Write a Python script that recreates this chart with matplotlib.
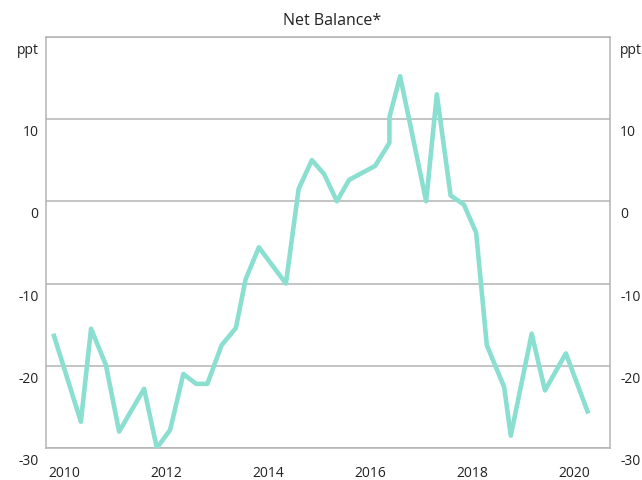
import numpy as np
import matplotlib.pyplot as plt
from matplotlib.transforms import ScaledTranslation

plt.rcParams['font.family'] = ['Open Sans', 'DejaVu Sans']

# survey dates (decimal years) and net balance (ppt)
dates = [2009.79, 2010.33, 2010.53, 2010.82, 2011.08, 2011.57, 2011.82,
         2012.08, 2012.34, 2012.59, 2012.81, 2013.09, 2013.37, 2013.56,
         2013.82, 2014.35, 2014.60, 2014.86, 2015.10, 2015.35, 2015.59,
         2016.10, 2016.38, 2016.38, 2016.59, 2017.10, 2017.31, 2017.58,
         2017.84, 2018.08, 2018.29, 2018.63, 2018.76, 2019.17, 2019.43,
         2019.84, 2020.28]
net_balance = [-16.1, -26.8, -15.5, -19.9, -28.0, -22.8, -30.0, -27.8,
               -21.0, -22.2, -22.2, -17.5, -15.4, -9.5, -5.6, -10.0, 1.5,
               5.0, 3.3, 0.0, 2.6, 4.3, 7.1, 10.2, 15.2, 0.0, 13.0, 0.7,
               -0.4, -3.8, -17.5, -22.6, -28.5, -16.1, -23.0, -18.5, -25.8]

year_ticks = [2010, 2012, 2014, 2016, 2018, 2020]
y_ticks = [-30, -20, -10, 0, 10, 20]
y_labels = ['-30', '-20', '-10', '0', '10', 'ppt']

LINE = '#8adfd1'
GRID = '#b4b4b4'
TXT = '#222222'

fig = plt.figure(figsize=(6.42, 4.81), dpi=100)
ax = fig.add_axes([0.0717, 0.0665, 0.8785, 0.855])

ax.plot(dates, net_balance, color=LINE, lw=3.3, solid_joinstyle='round',
        solid_capstyle='butt', zorder=3)

ax.set_xlim(2009.647, 2020.706)
ax.set_ylim(-30, 20)
ax.set_yticks(y_ticks)
ax.set_yticklabels([])
ax.grid(axis='y', color=GRID, lw=1.1)
ax.set_xticks(year_ticks)
ax.set_xticklabels([str(y) for y in year_ticks])
ax.tick_params(axis='x', length=0, pad=12, labelsize=10, labelcolor=TXT)
ax.tick_params(axis='y', length=0)
for s in ax.spines.values():
    s.set_color(GRID)
    s.set_linewidth(1.1)

# y labels sit a bit below their gridlines, on both sides
off = ScaledTranslation(0, -9 / 72, fig.dpi_scale_trans)
for v, lab in zip(y_ticks, y_labels):
    ax.text(-0.013, v, lab, transform=ax.get_yaxis_transform() + off,
            ha='right', va='center', fontsize=10, color=TXT)
    ax.text(1.018, v, lab, transform=ax.get_yaxis_transform() + off,
            ha='left', va='center', fontsize=10, color=TXT)

fig.text(0.517, 0.956, 'Net Balance*', ha='center', va='center',
         fontsize=11.5, color=TXT)

fig.savefig('out.png', dpi=100)
